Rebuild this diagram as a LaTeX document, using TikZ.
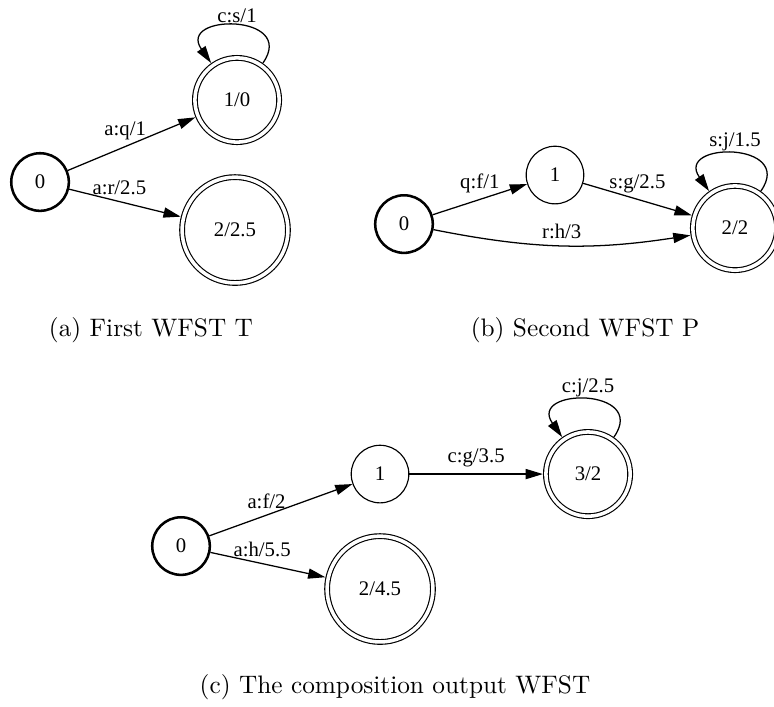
\documentclass[tikz,border=0pt]{standalone}
\usepackage{fontspec}
\usepackage{tikz}
\usetikzlibrary{arrows.meta}
\newfontfamily\dotfont{Liberation Serif}

\begin{document}
\begin{tikzpicture}[>={Triangle[length=6.8pt,width=4pt]},
    roundnode/.style={circle, draw=black, line width=0.45pt, minimum size=0.8cm, inner sep=0pt, font=\dotfont\fontsize{8.2}{10}\selectfont},
    startnode/.style={roundnode, line width=1pt},
    finalnode/.style={roundnode, double, double distance=1.4pt, outer sep=1.2pt, minimum size=1.17cm},
    bigfinal/.style={finalnode, minimum size=1.47cm},
    lbl/.style={font=\dotfont\fontsize{8.2}{10}\selectfont, inner sep=2.4pt},
    caption/.style={font=\normalsize}]
    \useasboundingbox (0,0) rectangle (10.75,9.806);

    % first transducer T
    \node[startnode] (A0) at (0.556,7.278) {0};
    \node[finalnode] (A1) at (3.292,8.417) {1/0};
    \node[bigfinal] (A2) at (3.264,6.611) {2/2.5};

    % second transducer P
    \node[startnode] (B0) at (5.611,6.694) {0};
    \node[roundnode] (B1) at (7.708,7.375) {1};
    \node[finalnode] (B2) at (10.208,6.639) {2/2};

    % composition
    \node[startnode] (C0) at (2.514,2.222) {0};
    \node[roundnode] (C1) at (5.278,3.222) {1};
    \node[finalnode] (C2) at (8.167,3.222) {3/2};
    \node[bigfinal] (C3) at (5.278,1.625) {2/4.5};

    \tikzset{every edge/.style={draw, line width=0.5pt}}

    \draw[->] (A0) edge node[lbl, above, pos=0.45] {a:q/1} (A1);
    \draw[->] (A0) edge node[lbl, above, pos=0.45] {a:r/2.5} (A2);
    \draw[->] (A1) edge[out=55, in=125, looseness=3] node[lbl, above, inner sep=1pt] {c:s/1} (A1);

    \draw[->] (B0) edge node[lbl, above] {q:f/1} (B1);
    \draw[->] (B1) edge node[lbl, above] {s:g/2.5} (B2);
    \draw[->] (B0) edge[bend right=10] node[lbl, above] {r:h/3} (B2);
    \draw[->] (B2) edge[out=55, in=125, looseness=3] node[lbl, above, inner sep=1pt] {s:j/1.5} (B2);

    \draw[->] (C0) edge node[lbl, above, pos=0.4] {a:f/2} (C1);
    \draw[->] (C0) edge node[lbl, above, pos=0.45] {a:h/5.5} (C3);
    \draw[->] (C1) edge node[lbl, above] {c:g/3.5} (C2);
    \draw[->] (C2) edge[out=55, in=125, looseness=3] node[lbl, above, inner sep=1pt] {c:j/2.5} (C2);

    % subfigure captions
    \node[caption] (capA) at (2.097,5.222) {(a) First WFST T};
    \node[caption] (capB) at (8.125,5.222) {(b) Second WFST P};
    \node[caption] (capC) at (5.486,0.264) {(c) The composition output WFST};
\end{tikzpicture}
\end{document}
